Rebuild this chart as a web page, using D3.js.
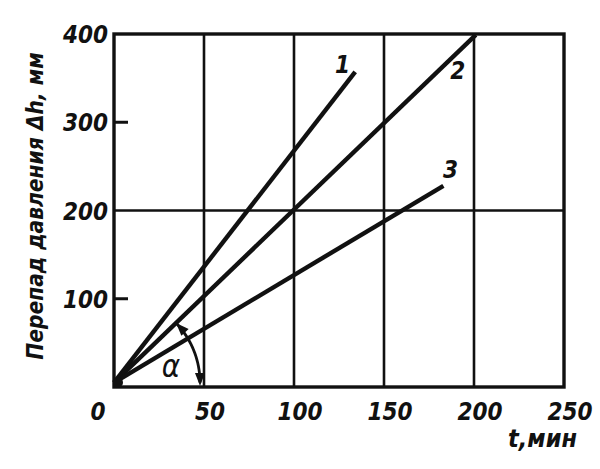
<!DOCTYPE html>
<html><head><meta charset="utf-8">
<script src="https://cdn.jsdelivr.net/npm/d3@7"></script>
<style>
body{margin:0;background:#fff;}
text{font-family:"DejaVu Sans Condensed","DejaVu Sans",sans-serif;font-style:italic;font-weight:bold;fill:#111;}
</style></head>
<body><svg id="c" width="600" height="469"></svg>
<script>
// Data
const xTickValues = [0, 50, 100, 150, 200, 250];
const yTickValues = [100, 200, 300, 400];
const xGridValues = [50, 100, 150, 200];
const yGridValues = [200];
const seriesNames = ["1", "2", "3"];
const line1 = [[0, 5], [134, 357]];
const line2 = [[0, 5], [201, 399]];
const line3 = [[0, 5], [183, 228]];
const seriesData = [line1, line2, line3];
const labelPos = [[127, 356], [191, 349], [187, 237]];

const svg = d3.select("#c");
const x = d3.scaleLinear().domain([0, 250]).range([114, 564]);
const y = d3.scaleLinear().domain([0, 400]).range([387, 34]);
const ink = "#111";

// grid
svg.selectAll(".gx").data(xGridValues).join("line")
  .attr("x1", d => x(d)).attr("x2", d => x(d)).attr("y1", y(0)).attr("y2", y(400))
  .attr("stroke", ink).attr("stroke-width", 2.6);
svg.selectAll(".gy").data(yGridValues).join("line")
  .attr("x1", x(0)).attr("x2", x(250)).attr("y1", d => y(d)).attr("y2", d => y(d))
  .attr("stroke", ink).attr("stroke-width", 2.6);

// frame
svg.append("rect").attr("x", x(0)).attr("y", y(400)).attr("width", x(250) - x(0)).attr("height", y(0) - y(400))
  .attr("fill", "none").attr("stroke", ink).attr("stroke-width", 3.4);

// inner ticks at 100 and 300
svg.selectAll(".ty").data([100, 300]).join("line")
  .attr("x1", x(0)).attr("x2", x(0) + 14).attr("y1", d => y(d)).attr("y2", d => y(d))
  .attr("stroke", ink).attr("stroke-width", 3);

// y tick labels
svg.selectAll(".yl").data(yTickValues).join("text")
  .attr("x", x(0) - 6).attr("y", d => y(d) + 9).attr("text-anchor", "end")
  .attr("font-size", 24).text(d => d);
// x tick labels
svg.selectAll(".xl").data(xTickValues).join("text")
  .attr("x", d => d === 0 ? x(d) - 16 : x(d) + 6).attr("y", 420).attr("text-anchor", "middle")
  .attr("font-size", 24).text(d => d);

// series lines
const lineGen = d3.line().x(d => x(d[0])).y(d => y(d[1]));
svg.selectAll(".s").data(seriesData).join("path")
  .attr("d", lineGen).attr("fill", "none").attr("stroke", ink).attr("stroke-width", 4.4).attr("stroke-linecap", "butt");
svg.append("circle").attr("cx", x(0) + 4).attr("cy", y(5)).attr("r", 5).attr("fill", ink);
// series numbers
svg.selectAll(".sn").data(seriesNames).join("text")
  .attr("x", (d, i) => x(labelPos[i][0])).attr("y", (d, i) => y(labelPos[i][1]))
  .attr("font-size", 24).attr("text-anchor", "middle").text(d => d);

// angle alpha arc
const cx = x(0), cy = y(5), r = 86;
const a2 = Math.atan2(y(line2[0][1]) - y(line2[1][1]), x(line2[1][0]) - x(line2[0][0]));
const arcPts = d3.range(0, 1.0001, 0.05).map(t => {
  const a = a2 * (1 - t);
  return [cx + r * Math.cos(a), cy - r * Math.sin(a)];
});
svg.append("path").attr("d", d3.line()(arcPts)).attr("fill", "none").attr("stroke", ink).attr("stroke-width", 2.8);
function head(px, py, ang) {
  const L = 13, W = 5;
  const dx = Math.cos(ang), dy = Math.sin(ang);
  const p = [[px, py], [px - L * dx + W * dy, py - L * dy - W * dx], [px - L * dx - W * dy, py - L * dy + W * dx]];
  svg.append("path").attr("d", "M" + p.join("L") + "Z").attr("fill", ink);
}
head(cx + r * Math.cos(a2), cy - r * Math.sin(a2), Math.atan2(-Math.cos(a2), -Math.sin(a2)));
head(cx + r, y(0) - 1, Math.PI / 2);
svg.append("text").attr("x", 171).attr("y", 377).attr("font-size", 31).style("font-weight", "normal").attr("text-anchor", "middle").text("α");

// axis titles
svg.append("text").attr("transform", "translate(43,206) rotate(-90)").attr("text-anchor", "middle")
  .attr("font-size", 22.5).text("Перепад давления Δh, мм");
svg.append("text").attr("x", 577).attr("y", 447).attr("text-anchor", "end").attr("font-size", 25).text("t,мин");
</script></body></html>
